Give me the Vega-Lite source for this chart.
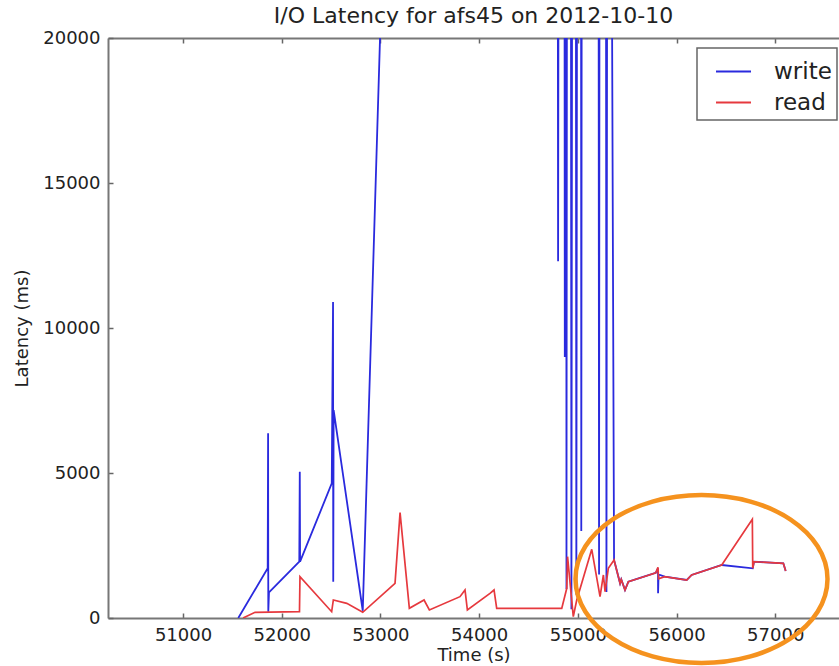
{
  "$schema": "https://vega.github.io/schema/vega-lite/v6.json",
  "width": 731,
  "height": 580,
  "autosize": {"type": "none"},
  "padding": {"left": 108, "top": 38, "right": 0, "bottom": 48},
  "background": "white",
  "title": {
    "text": "I/O Latency for afs45 on 2012-10-10",
    "font": "DejaVu Sans",
    "fontSize": 22,
    "fontWeight": "normal",
    "color": "#222222",
    "anchor": "middle",
    "offset": 1
  },
  "config": {
    "view": {"stroke": null},
    "axis": {
      "grid": false,
      "domainColor": "#777777",
      "domainWidth": 2,
      "tickColor": "#666666",
      "tickWidth": 1.5,
      "tickSize": -5,
      "labelFont": "DejaVu Sans",
      "labelFontSize": 18,
      "labelColor": "#222222",
      "labelPadding": 13,
      "titleFont": "DejaVu Sans",
      "titleFontSize": 18,
      "titleFontWeight": "normal",
      "titleColor": "#222222"
    },
    "legend": {
      "orient": "none",
      "legendX": 589,
      "legendY": 10,
      "fillColor": "white",
      "strokeColor": "#666666",
      "strokeWidth": 1.5,
      "padding": 5,
      "symbolOffset": 13,
      "symbolType": "stroke",
      "symbolSize": 1225,
      "symbolStrokeWidth": 2,
      "labelFont": "DejaVu Sans",
      "labelFontSize": 23,
      "labelColor": "#222222",
      "labelOffset": 22,
      "rowPadding": 0
    }
  },
  "datasets": {
    "latency": [
      {"series": "write", "t": 51560, "v": 0},
      {"series": "write", "t": 51858, "v": 1714},
      {"series": "write", "t": 51862, "v": 6369},
      {"series": "write", "t": 51864, "v": 217},
      {"series": "write", "t": 51871, "v": 886},
      {"series": "write", "t": 52178, "v": 1941},
      {"series": "write", "t": 52183, "v": 5045},
      {"series": "write", "t": 52186, "v": 1941},
      {"series": "write", "t": 52507, "v": 4644},
      {"series": "write", "t": 52520, "v": 10900},
      {"series": "write", "t": 52522, "v": 1253},
      {"series": "write", "t": 52526, "v": 7172},
      {"series": "write", "t": 52821, "v": 250},
      {"series": "write", "t": 53020, "v": 22700},
      {"series": "write", "t": 54790, "v": 50000},
      {"series": "write", "t": 54800, "v": 12300},
      {"series": "write", "t": 54815, "v": 50000},
      {"series": "write", "t": 54860, "v": 50000},
      {"series": "write", "t": 54868, "v": 9000},
      {"series": "write", "t": 54874, "v": 50000},
      {"series": "write", "t": 54880, "v": 50000},
      {"series": "write", "t": 54885, "v": 1000},
      {"series": "write", "t": 54895, "v": 50000},
      {"series": "write", "t": 54925, "v": 50000},
      {"series": "write", "t": 54935, "v": 300},
      {"series": "write", "t": 54950, "v": 50000},
      {"series": "write", "t": 54975, "v": 50000},
      {"series": "write", "t": 54985, "v": 800},
      {"series": "write", "t": 55000, "v": 50000},
      {"series": "write", "t": 55030, "v": 50000},
      {"series": "write", "t": 55035, "v": 3000},
      {"series": "write", "t": 55045, "v": 50000},
      {"series": "write", "t": 55205, "v": 50000},
      {"series": "write", "t": 55215, "v": 1500},
      {"series": "write", "t": 55225, "v": 50000},
      {"series": "write", "t": 55280, "v": 50000},
      {"series": "write", "t": 55290, "v": 900},
      {"series": "write", "t": 55305, "v": 50000},
      {"series": "write", "t": 55315, "v": 50000},
      {"series": "write", "t": 55367, "v": 2000},
      {"series": "write", "t": 55428, "v": 1195},
      {"series": "write", "t": 55440, "v": 1330},
      {"series": "write", "t": 55478, "v": 966},
      {"series": "write", "t": 55512, "v": 1253},
      {"series": "write", "t": 55630, "v": 1380},
      {"series": "write", "t": 55790, "v": 1560},
      {"series": "write", "t": 55812, "v": 1714},
      {"series": "write", "t": 55813, "v": 852},
      {"series": "write", "t": 55818, "v": 1500},
      {"series": "write", "t": 55880, "v": 1425},
      {"series": "write", "t": 56103, "v": 1310},
      {"series": "write", "t": 56153, "v": 1483},
      {"series": "write", "t": 56458, "v": 1828},
      {"series": "write", "t": 56772, "v": 1714},
      {"series": "write", "t": 56785, "v": 1941},
      {"series": "write", "t": 57082, "v": 1886},
      {"series": "write", "t": 57106, "v": 1621},

      {"series": "read", "t": 51608, "v": 0},
      {"series": "read", "t": 51730, "v": 195},
      {"series": "read", "t": 52180, "v": 217},
      {"series": "read", "t": 52185, "v": 1425},
      {"series": "read", "t": 52506, "v": 217},
      {"series": "read", "t": 52523, "v": 621},
      {"series": "read", "t": 52659, "v": 506},
      {"series": "read", "t": 52821, "v": 197},
      {"series": "read", "t": 53148, "v": 1195},
      {"series": "read", "t": 53199, "v": 3632},
      {"series": "read", "t": 53293, "v": 333},
      {"series": "read", "t": 53442, "v": 621},
      {"series": "read", "t": 53496, "v": 276},
      {"series": "read", "t": 53806, "v": 736},
      {"series": "read", "t": 53857, "v": 966},
      {"series": "read", "t": 53881, "v": 276},
      {"series": "read", "t": 54110, "v": 851},
      {"series": "read", "t": 54151, "v": 966},
      {"series": "read", "t": 54178, "v": 333},
      {"series": "read", "t": 54837, "v": 333},
      {"series": "read", "t": 54888, "v": 1024},
      {"series": "read", "t": 54896, "v": 2114},
      {"series": "read", "t": 54954, "v": 45},
      {"series": "read", "t": 54989, "v": 621},
      {"series": "read", "t": 55141, "v": 2368},
      {"series": "read", "t": 55225, "v": 735},
      {"series": "read", "t": 55259, "v": 1483},
      {"series": "read", "t": 55276, "v": 908},
      {"series": "read", "t": 55309, "v": 1714},
      {"series": "read", "t": 55367, "v": 2000},
      {"series": "read", "t": 55428, "v": 1195},
      {"series": "read", "t": 55440, "v": 1330},
      {"series": "read", "t": 55478, "v": 966},
      {"series": "read", "t": 55512, "v": 1253},
      {"series": "read", "t": 55630, "v": 1380},
      {"series": "read", "t": 55790, "v": 1560},
      {"series": "read", "t": 55812, "v": 1750},
      {"series": "read", "t": 55818, "v": 1350},
      {"series": "read", "t": 55880, "v": 1425},
      {"series": "read", "t": 56103, "v": 1310},
      {"series": "read", "t": 56153, "v": 1483},
      {"series": "read", "t": 56458, "v": 1828},
      {"series": "read", "t": 56768, "v": 3403},
      {"series": "read", "t": 56772, "v": 1714},
      {"series": "read", "t": 56785, "v": 1941},
      {"series": "read", "t": 57082, "v": 1886},
      {"series": "read", "t": 57106, "v": 1621}
    ],
    "highlight": [
      {"label": "steady region", "t": 56253, "v": 1345}
    ]
  },
  "layer": [
    {
      "data": {"name": "latency"},
      "transform": [{"filter": "datum.series === 'write'"}],
      "mark": {"type": "line", "clip": true, "strokeWidth": 1.8},
      "encoding": {
        "x": {
          "field": "t", "type": "quantitative",
          "scale": {"domain": [50240, 57646], "nice": false, "zero": false},
          "axis": {"orient": "bottom", "values": [51000, 52000, 53000, 54000, 55000, 56000, 57000], "format": "d", "title": "Time (s)", "titlePadding": 2}
        },
        "y": {
          "field": "v", "type": "quantitative",
          "scale": {"domain": [0, 20000], "nice": false},
          "axis": {"orient": "left", "values": [0, 5000, 10000, 15000, 20000], "format": "d", "title": "Latency (ms)", "titlePadding": 11}
        },
        "order": {"field": "t"},
        "color": {
          "field": "series", "type": "nominal",
          "scale": {"domain": ["write", "read"], "range": ["#2a2ade", "#e6393e"]},
          "legend": {"title": null}
        }
      }
    },
    {
      "data": {"name": "latency"},
      "transform": [{"filter": "datum.series === 'read'"}],
      "mark": {"type": "line", "clip": true, "strokeWidth": 1.7},
      "encoding": {
        "x": {
          "field": "t", "type": "quantitative",
          "axis": {"orient": "top", "values": [51000, 52000, 53000, 54000, 55000, 56000, 57000], "labels": false, "title": null}
        },
        "y": {"field": "v", "type": "quantitative", "axis": null},
        "order": {"field": "t"},
        "color": {"field": "series", "type": "nominal", "legend": {"title": null}}
      }
    },
    {
      "data": {"name": "highlight"},
      "mark": {
        "type": "point",
        "shape": "M -1 0 C -1 -0.368 -0.5523 -0.667 0 -0.667 C 0.5523 -0.667 1 -0.368 1 0 C 1 0.368 0.5523 0.667 0 0.667 C -0.5523 0.667 -1 0.368 -1 0 Z",
        "size": 63504,
        "filled": false,
        "stroke": "#f5921e",
        "strokeWidth": 4.5,
        "opacity": 1,
        "clip": false
      },
      "encoding": {
        "x": {"field": "t", "type": "quantitative", "axis": null},
        "y": {"field": "v", "type": "quantitative", "axis": null}
      }
    }
  ],
  "resolve": {"axis": {"x": "independent", "y": "independent"}}
}
